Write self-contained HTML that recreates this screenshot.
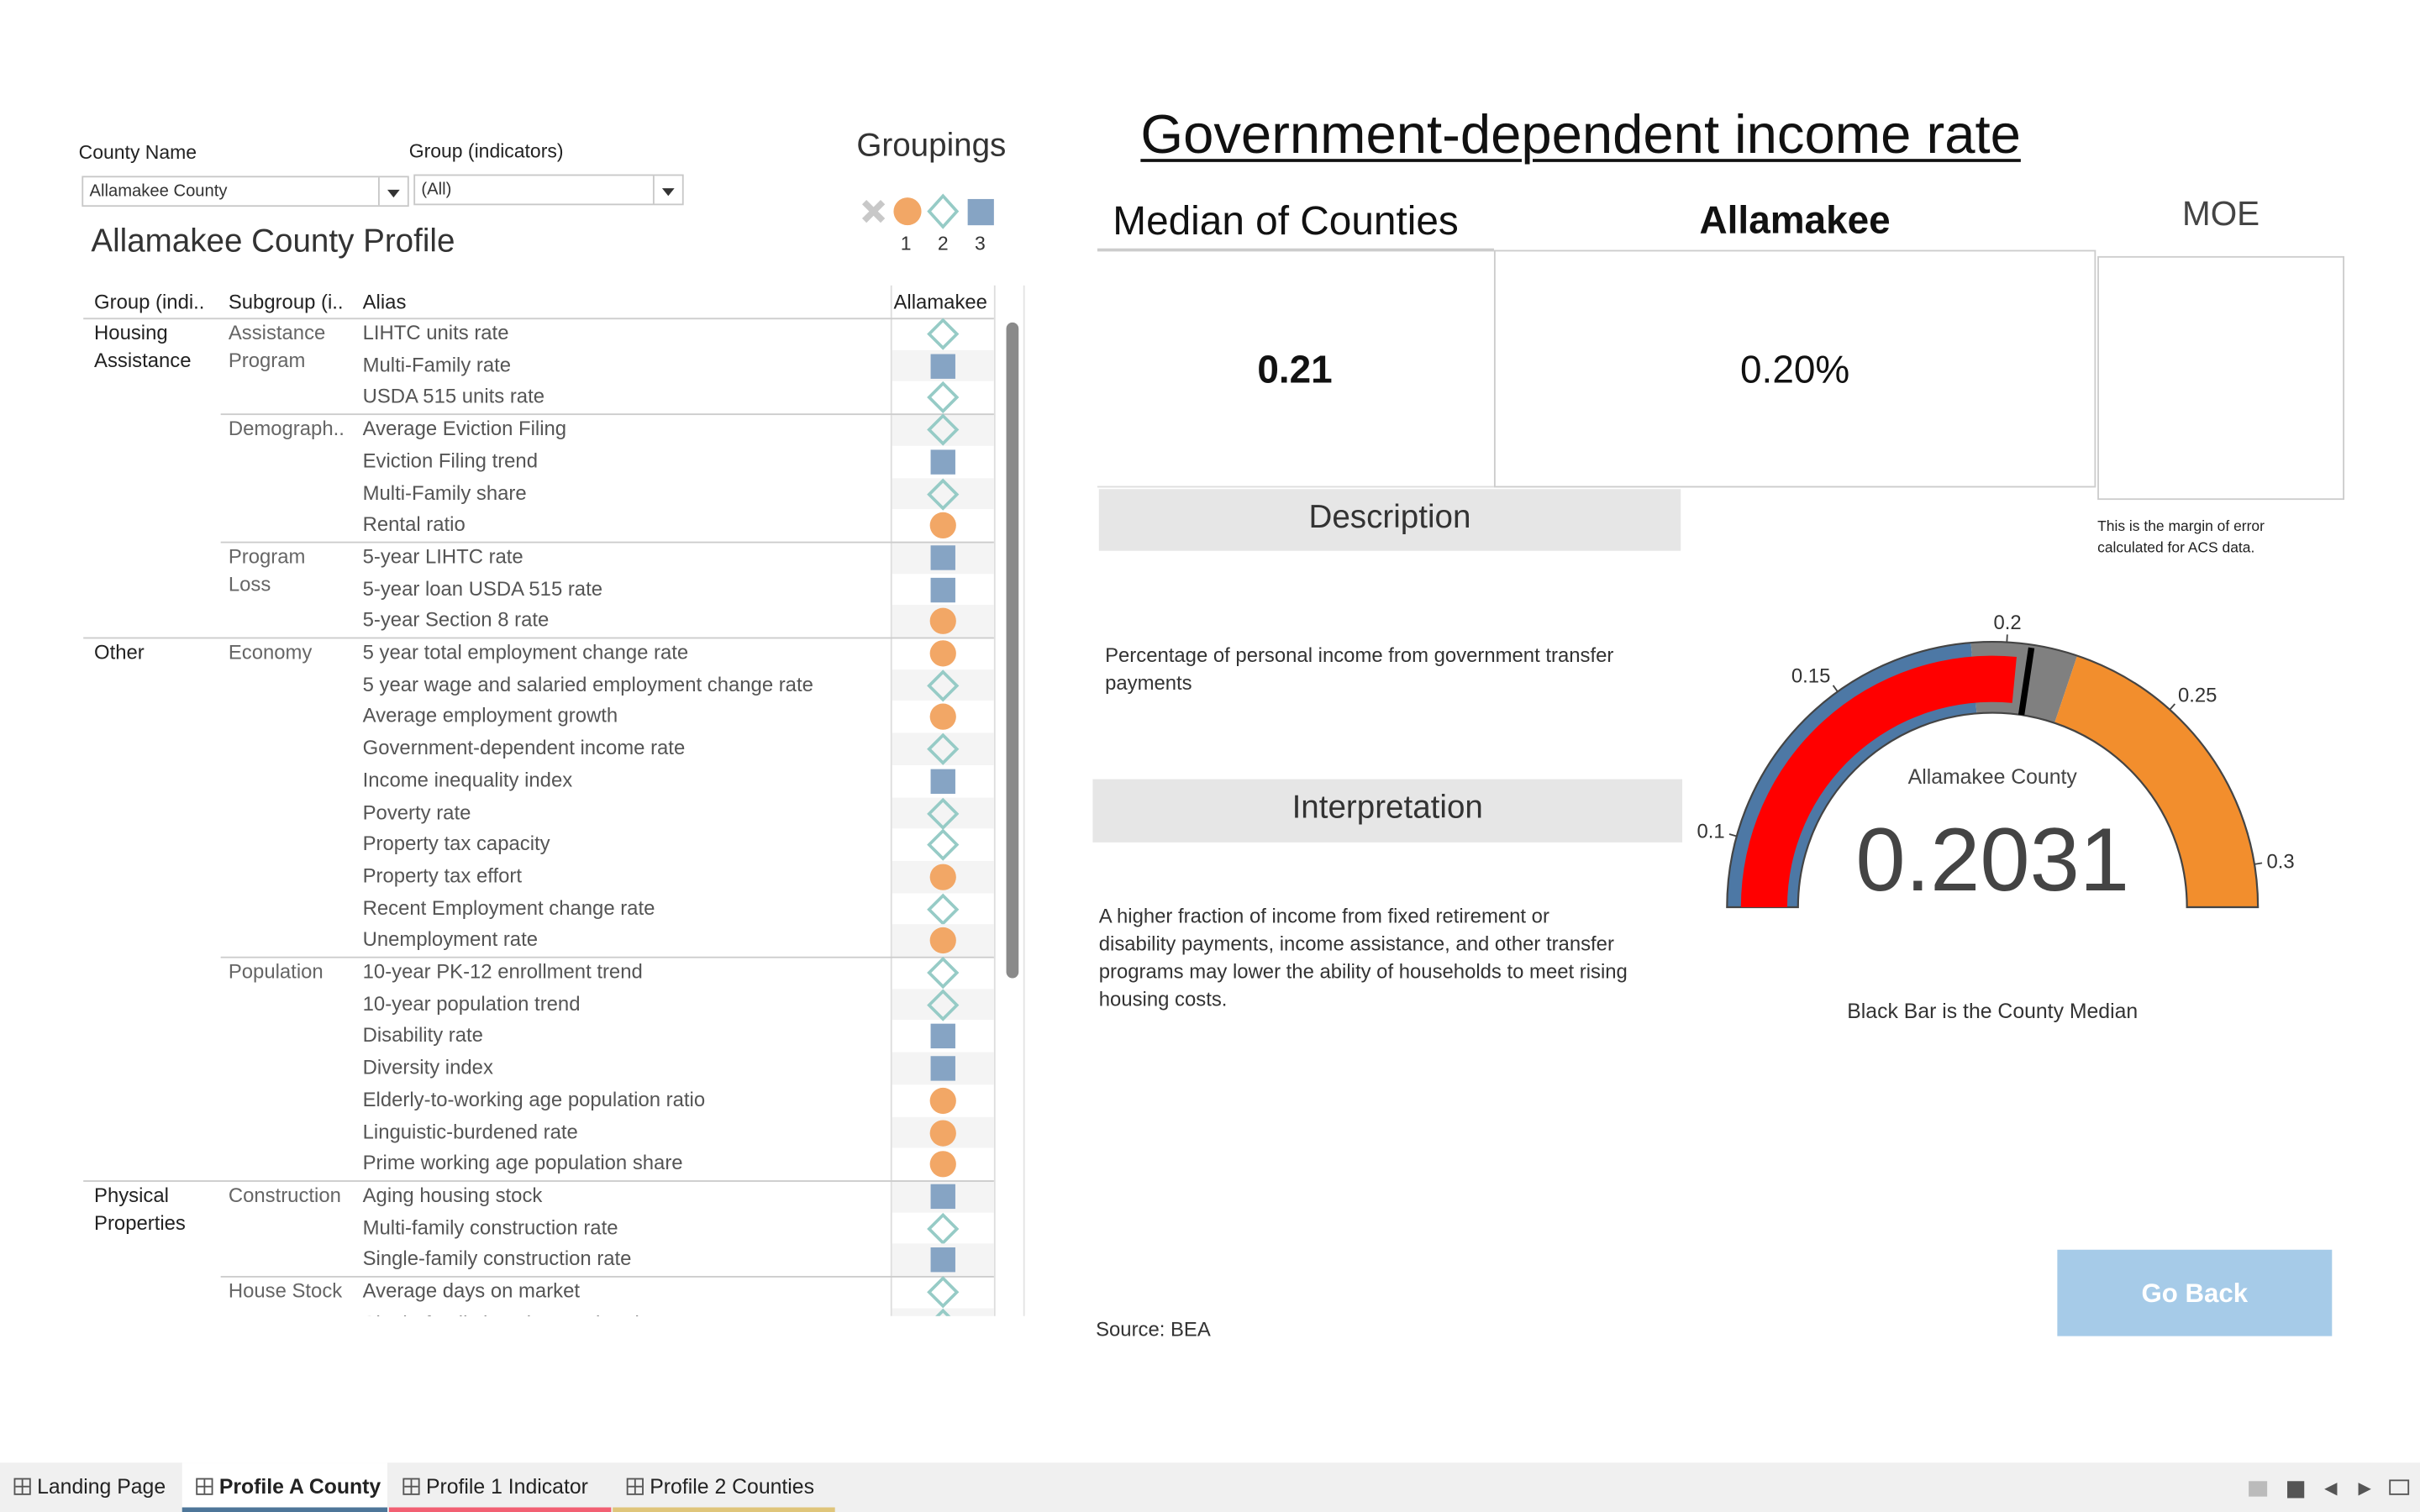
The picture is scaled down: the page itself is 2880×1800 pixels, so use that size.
<!DOCTYPE html>
<html><head><meta charset="utf-8">
<style>
html,body{margin:0;padding:0;background:#fff;overflow:hidden;width:2880px;height:1800px;}
#root{position:absolute;left:0;top:0;width:1568px;height:980px;transform:scale(1.836735);transform-origin:0 0;font-family:"Liberation Sans",sans-serif;color:#333;}
.a{position:absolute;white-space:nowrap;}
.dd{position:absolute;border:1px solid #c8c8c8;background:#fff;font-size:11px;color:#333;box-sizing:border-box;padding:3px 4px;}
.dd .arr{position:absolute;right:0;top:0;width:18px;height:100%;border-left:1px solid #c8c8c8;}
.dd .arr:after{content:"";position:absolute;left:5px;top:8px;border-left:4px solid transparent;border-right:4px solid transparent;border-top:5px solid #333;}
.tab{position:absolute;top:948px;height:32px;font-size:13.5px;color:#222;box-sizing:border-box;padding-top:8px;padding-left:24px;}
.tab .ic{position:absolute;left:9px;top:10px;width:11px;height:11px;border:1px solid #555;box-sizing:border-box;}
.tab .ic:before{content:"";position:absolute;left:4px;top:0;width:1px;height:9px;background:#555;}
.tab .ic:after{content:"";position:absolute;left:0;top:4px;width:9px;height:1px;background:#555;}
.tab .ul{position:absolute;left:0;right:0;bottom:0;height:3px;}
</style></head>
<body>
<div id="root">

<div class="a" style="left:51px;top:92px;font-size:12.5px;color:#222">County Name</div>
<div class="dd" style="left:53px;top:114px;width:212px;height:20px">Allamakee County<span class="arr"></span></div>
<div class="a" style="left:265px;top:91px;font-size:12.5px;color:#222">Group (indicators)</div>
<div class="dd" style="left:268px;top:113px;width:175px;height:20px">(All)<span class="arr"></span></div>

<div class="a" style="left:555px;top:83px;font-size:21px;color:#333">Groupings</div>
<svg class="a" style="left:550px;top:124px" width="100" height="45">
 <g><line x1="10" y1="7" x2="22" y2="19" stroke="#c8c8c8" stroke-width="4"/><line x1="22" y1="7" x2="10" y2="19" stroke="#c8c8c8" stroke-width="4"/></g>
 <circle cx="38" cy="13" r="9" fill="#f2a766"/>
 <path d="M61 3 L70 13 L61 23 L52 13 Z" fill="none" stroke="#96cbc6" stroke-width="2"/>
 <rect x="77" y="5" width="17" height="17" fill="#86a4c4"/>
 <text x="37" y="38" font-size="12.5" text-anchor="middle" fill="#333" font-family="Liberation Sans">1</text>
 <text x="61" y="38" font-size="12.5" text-anchor="middle" fill="#333" font-family="Liberation Sans">2</text>
 <text x="85" y="38" font-size="12.5" text-anchor="middle" fill="#333" font-family="Liberation Sans">3</text>
</svg>

<div class="a" style="left:59px;top:145px;font-size:21px;color:#333">Allamakee County Profile</div>

<div class="a" style="left:61px;top:188px;font-size:13px;color:#222">Group (indi..</div>
<div class="a" style="left:148px;top:188px;font-size:13px;color:#222">Subgroup (i..</div>
<div class="a" style="left:235px;top:188px;font-size:13px;color:#222">Alias</div>
<div class="a" style="left:579px;top:188px;font-size:13px;color:#222">Allamakee</div>
<div class="a" style="left:577px;top:185px;width:1px;height:668px;background:#ddd"></div>
<div class="a" style="left:644px;top:185px;width:1px;height:668px;background:#ddd"></div>
<div class="a" style="left:54px;top:206px;width:590px;height:1px;background:#ccc"></div>

<div id="tbl" class="a" style="left:0;top:0;width:660px;height:853px;overflow:hidden"></div>

<div class="a" style="left:652px;top:209px;width:8px;height:425px;border-radius:4px;background:#8a8a8a"></div>
<div class="a" style="left:663px;top:185px;width:1px;height:668px;background:#e4e4e4"></div>

<div class="a" style="left:739px;top:67px;font-size:35.5px;color:#111;text-decoration:underline;text-decoration-thickness:2px;text-underline-offset:4px">Government-dependent income rate</div>
<div class="a" style="left:721px;top:128px;font-size:26px;color:#111">Median of Counties</div>
<div class="a" style="left:1163px;top:129px;font-size:25px;color:#111;font-weight:bold;transform:translateX(-50%)">Allamakee</div>
<div class="a" style="left:1439px;top:126px;font-size:22px;color:#444;transform:translateX(-50%)">MOE</div>
<div class="a" style="left:711px;top:161px;width:257px;height:155px;border-top:2px solid #ccc;border-bottom:1px solid #ddd;box-sizing:border-box"></div>
<div class="a" style="left:968px;top:162px;width:390px;height:154px;border:1px solid #ccc;box-sizing:border-box"></div>
<div class="a" style="left:1359px;top:166px;width:160px;height:158px;border:1px solid #ccc;box-sizing:border-box"></div>
<div class="a" style="left:839px;top:226px;font-size:25px;font-weight:bold;color:#111;transform:translateX(-50%)">0.21</div>
<div class="a" style="left:1163px;top:226px;font-size:25px;color:#111;transform:translateX(-50%)">0.20%</div>
<div class="a" style="left:1359px;top:335px;font-size:9.5px;color:#222;line-height:14px">This is the margin of error<br>calculated for ACS data.</div>

<div class="a" style="left:712px;top:317px;width:377px;height:40px;background:#e6e6e6;font-size:21px;color:#333;text-align:center;line-height:38px">Description</div>
<div class="a" style="left:716px;top:416px;font-size:13px;color:#333;line-height:18px">Percentage of personal income from government transfer<br>payments</div>
<div class="a" style="left:708px;top:505px;width:382px;height:41px;background:#e6e6e6;font-size:21px;color:#333;text-align:center;line-height:38px">Interpretation</div>
<div class="a" style="left:712px;top:585px;font-size:13px;color:#333;line-height:18px">A higher fraction of income from fixed retirement or<br>disability payments, income assistance, and other transfer<br>programs may lower the ability of households to meet rising<br>housing costs.</div>
<div class="a" style="left:710px;top:854px;font-size:13px;color:#333">Source: BEA</div>

<svg id="gauge" class="a" style="left:1070px;top:380px" width="450" height="240"></svg>
<div class="a" style="left:1291px;top:648px;font-size:13.5px;color:#333;transform:translateX(-50%)">Black Bar is the County Median</div>

<div class="a" style="left:1333px;top:810px;width:178px;height:56px;background:#a6cbe8;color:#fff;font-weight:bold;font-size:17px;text-align:center;line-height:58px">Go Back</div>

<div class="a" style="left:0;top:948px;width:1568px;height:32px;background:#f0f0f0"></div>
<div class="tab" style="left:0;width:118px"><span class="ic"></span>Landing Page</div>
<div class="tab" style="left:118px;width:133px;background:#fff;font-weight:bold"><span class="ic"></span>Profile A County<span class="ul" style="background:#4e7699"></span></div>
<div class="tab" style="left:252px;width:144px"><span class="ic"></span>Profile 1 Indicator<span class="ul" style="background:#f26073"></span></div>
<div class="tab" style="left:397px;width:144px"><span class="ic"></span>Profile 2 Counties<span class="ul" style="background:#dfc57a"></span></div>
<div class="a" style="left:1457px;top:960px;width:12px;height:10px;background:#bbb"></div>
<div class="a" style="left:1482px;top:960px;width:11px;height:11px;background:#555"></div>
<div class="a" style="left:1506px;top:958px;font-size:11px;color:#555">&#9664;</div>
<div class="a" style="left:1528px;top:958px;font-size:11px;color:#555">&#9654;</div>
<div class="a" style="left:1548px;top:959px;width:13px;height:10px;border:1.5px solid #555;box-sizing:border-box"></div>
</div>

<script>
var groups = ["Housing\nAssistance","","","","","","","","","","Other","","","","","","","","","","","","","","","","","Physical\nProperties","","","",""];
var subgroups = ["Assistance\nProgram","","","Demograph..","","","","Program\nLoss","","","Economy","","","","","","","","","","Population","","","","","","","Construction","","","House Stock",""];
var aliases = ["LIHTC units rate","Multi-Family rate","USDA 515 units rate","Average Eviction Filing","Eviction Filing trend","Multi-Family share","Rental ratio","5-year LIHTC rate","5-year loan USDA 515 rate","5-year Section 8 rate","5 year total employment change rate","5 year wage and salaried employment change rate","Average employment growth","Government-dependent income rate","Income inequality index","Poverty rate","Property tax capacity","Property tax effort","Recent Employment change rate","Unemployment rate","10-year PK-12 enrollment trend","10-year population trend","Disability rate","Diversity index","Elderly-to-working age population ratio","Linguistic-burdened rate","Prime working age population share","Aging housing stock","Multi-family construction rate","Single-family construction rate","Average days on market","Single-family housing stock ratio"];
var groupings = [2,3,2,2,3,2,1,3,3,1,1,2,1,2,3,2,2,1,2,1,2,2,3,3,1,1,1,3,2,3,2,2];

var tbl = document.getElementById('tbl');
var NS = "http://www.w3.org/2000/svg";
var top0 = 206, rh = 20.7;
for (var i = 0; i < aliases.length; i++) {
  var y = top0 + i * rh;
  if (i % 2 == 1) {
    var bg = document.createElement('div');
    bg.className = 'a';
    bg.style.cssText = 'left:578px;top:' + y + 'px;width:66px;height:' + rh + 'px;background:#f4f4f4';
    tbl.appendChild(bg);
  }
  if (i > 0 && (groups[i] || subgroups[i])) {
    var ln = document.createElement('div');
    ln.className = 'a';
    var lx = groups[i] ? 54 : 143;
    ln.style.cssText = 'left:' + lx + 'px;top:' + y + 'px;width:' + (644 - lx) + 'px;height:1px;background:#ccc';
    tbl.appendChild(ln);
  }
  if (groups[i]) {
    var g = document.createElement('div');
    g.className = 'a';
    g.style.cssText = 'left:61px;top:' + (y + 1) + 'px;font-size:13px;line-height:18px;color:#222;white-space:pre';
    g.textContent = groups[i];
    
    
    tbl.appendChild(g);
  }
  if (subgroups[i]) {
    var s = document.createElement('div');
    s.className = 'a';
    s.style.cssText = 'left:148px;top:' + (y + 1) + 'px;font-size:13px;line-height:18px;color:#666;white-space:pre';
    s.textContent = subgroups[i];
    
    
    tbl.appendChild(s);
  }
  var al = document.createElement('div');
  al.className = 'a';
  al.style.cssText = 'left:235px;top:' + (y + 2) + 'px;font-size:13px;color:#555';
  al.textContent = aliases[i];
  
  
  tbl.appendChild(al);
  var sv = document.createElementNS(NS, 'svg');
  sv.setAttribute('class', 'a');
  sv.setAttribute('width', '24');
  sv.setAttribute('height', '22');
  sv.style.left = '599px';
  sv.style.top = (y) + 'px';
  var m;
  if (groupings[i] == 1) {
    m = document.createElementNS(NS, 'circle');
    m.setAttribute('cx', 12); m.setAttribute('cy', 10.5); m.setAttribute('r', 8.5);
    m.setAttribute('fill', '#f2a766');
  } else if (groupings[i] == 2) {
    m = document.createElementNS(NS, 'path');
    m.setAttribute('d', 'M12 1.5 L21 10.5 L12 19.5 L3 10.5 Z');
    m.setAttribute('fill', 'none'); m.setAttribute('stroke', '#96cbc6'); m.setAttribute('stroke-width', '2');
  } else {
    m = document.createElementNS(NS, 'rect');
    m.setAttribute('x', 4); m.setAttribute('y', 2.5); m.setAttribute('width', 16); m.setAttribute('height', 16);
    m.setAttribute('fill', '#86a4c4');
  }
  
  
  sv.appendChild(m);
  tbl.appendChild(sv);
}

var gaugeRange = [0.08, 0.312];
var bandStarts = [0.08, 0.19, 0.22];
var bandEnds = [0.19, 0.22, 0.312];
var bandColors = ["#4d78a5", "#808080", "#f28e2d"];
var countyValue = [0.2031];
var medianValue = [0.207];
var tickValues = [0.1, 0.15, 0.2, 0.25, 0.3];
var tickLabels = ["0.1", "0.15", "0.2", "0.25", "0.3"];

var gsvg = document.getElementById('gauge');
var cx = 1291 - 1070, cy = 588 - 380, R = 172, r = 126;
function ang(v) { return Math.PI * (1 - (v - gaugeRange[0]) / (gaugeRange[1] - gaugeRange[0])); }
function pt(v, rad) { var a = ang(v); return [cx + rad * Math.cos(a), cy - rad * Math.sin(a)]; }
function arcPath(v0, v1, r0, r1) {
  var p1 = pt(v0, r1), p2 = pt(v1, r1), p3 = pt(v1, r0), p4 = pt(v0, r0);
  var large = (ang(v0) - ang(v1)) > Math.PI ? 1 : 0;
  return 'M' + p1[0] + ' ' + p1[1] + ' A' + r1 + ' ' + r1 + ' 0 ' + large + ' 1 ' + p2[0] + ' ' + p2[1] +
    ' L' + p3[0] + ' ' + p3[1] + ' A' + r0 + ' ' + r0 + ' 0 ' + large + ' 0 ' + p4[0] + ' ' + p4[1] + ' Z';
}
for (var b = 0; b < bandStarts.length; b++) {
  var p = document.createElementNS(NS, 'path');
  p.setAttribute('d', arcPath(bandStarts[b], bandEnds[b], r, R));
  p.setAttribute('fill', bandColors[b]);
  
  
  gsvg.appendChild(p);
}
var outline = document.createElementNS(NS, 'path');
outline.setAttribute('d', arcPath(gaugeRange[0], gaugeRange[1], r, R));
outline.setAttribute('fill', 'none'); outline.setAttribute('stroke', '#444'); outline.setAttribute('stroke-width', '1.2');
gsvg.appendChild(outline);
var bar = document.createElementNS(NS, 'path');
bar.setAttribute('d', arcPath(gaugeRange[0], countyValue[0], 133, 163));
bar.setAttribute('fill', '#ff0000');


gsvg.appendChild(bar);
var mp1 = pt(medianValue[0], r), mp2 = pt(medianValue[0], R - 2);
var med = document.createElementNS(NS, 'line');
med.setAttribute('x1', mp1[0]); med.setAttribute('y1', mp1[1]); med.setAttribute('x2', mp2[0]); med.setAttribute('y2', mp2[1]);
med.setAttribute('stroke', '#000'); med.setAttribute('stroke-width', '4');


gsvg.appendChild(med);
for (var t = 0; t < tickValues.length; t++) {
  var a1 = pt(tickValues[t], R), a2 = pt(tickValues[t], R + 5), a3 = pt(tickValues[t], R + 8);
  var tl = document.createElementNS(NS, 'line');
  tl.setAttribute('x1', a1[0]); tl.setAttribute('y1', a1[1]); tl.setAttribute('x2', a2[0]); tl.setAttribute('y2', a2[1]);
  tl.setAttribute('stroke', '#444'); tl.setAttribute('stroke-width', '1');
  gsvg.appendChild(tl);
  var tx = document.createElementNS(NS, 'text');
  var c = Math.cos(ang(tickValues[t])), sn = Math.sin(ang(tickValues[t]));
  tx.setAttribute('x', a3[0]); tx.setAttribute('y', a3[1] + 4.5 - sn * 5);
  tx.setAttribute('text-anchor', c < -0.3 ? 'end' : (c > 0.3 ? 'start' : 'middle'));
  tx.setAttribute('font-size', '13'); tx.setAttribute('fill', '#333'); tx.setAttribute('font-family', 'Liberation Sans');
  tx.textContent = tickLabels[t];
  
  
  gsvg.appendChild(tx);
}
var lbl = document.createElementNS(NS, 'text');
lbl.setAttribute('x', cx); lbl.setAttribute('y', 128); lbl.setAttribute('text-anchor', 'middle');
lbl.setAttribute('font-size', '13.5'); lbl.setAttribute('fill', '#444'); lbl.setAttribute('font-family', 'Liberation Sans');
lbl.textContent = 'Allamakee County';


gsvg.appendChild(lbl);
var num = document.createElementNS(NS, 'text');
num.setAttribute('x', cx); num.setAttribute('y', 197); num.setAttribute('text-anchor', 'middle');
num.setAttribute('font-size', '58'); num.setAttribute('fill', '#444'); num.setAttribute('font-family', 'Liberation Sans');
num.textContent = countyValue[0].toFixed(4);


gsvg.appendChild(num);
</script>
</body></html>
